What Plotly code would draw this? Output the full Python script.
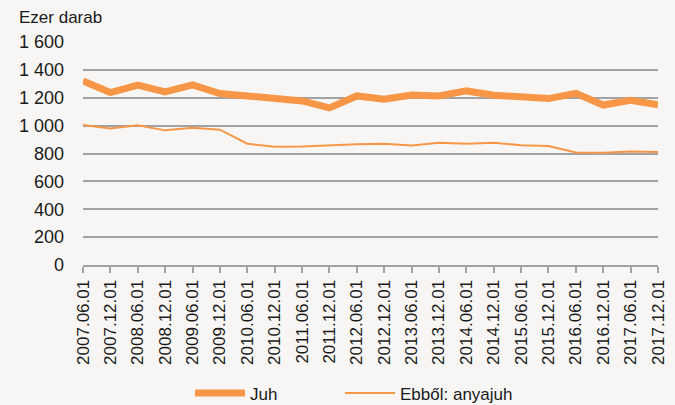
import plotly.graph_objects as go

categories = ["2007.06.01", "2007.12.01", "2008.06.01", "2008.12.01", "2009.06.01", "2009.12.01",
              "2010.06.01", "2010.12.01", "2011.06.01", "2011.12.01", "2012.06.01", "2012.12.01",
              "2013.06.01", "2013.12.01", "2014.06.01", "2014.12.01", "2015.06.01", "2015.12.01",
              "2016.06.01", "2016.12.01", "2017.06.01", "2017.12.01"]
juh = [1321, 1237, 1290, 1242, 1292, 1230, 1213, 1194, 1177, 1127, 1213, 1189,
       1220, 1213, 1249, 1218, 1206, 1194, 1232, 1148, 1182, 1150]
anyajuh = [1004, 980, 1002, 966, 985, 971, 870, 848, 850, 860, 867, 870,
           858, 877, 870, 877, 860, 853, 807, 805, 815, 810]
ytick_vals = [0, 200, 400, 600, 800, 1000, 1200, 1400, 1600]
ytick_text = ["0", "200", "400", "600", "800", "1 000", "1 200", "1 400", "1 600"]

orange = "#F79646"
grid = "#A0A2A6"
bg = "#F7F6F4"
font = "Liberation Sans, Arial, sans-serif"
txt = "#1a1a1a"

idx = list(range(len(categories)))

fig = go.Figure()
fig.add_trace(go.Scatter(x=idx, y=juh, mode="lines", name="Juh", legend="legend",
                         line=dict(color=orange, width=7), cliponaxis=False))
fig.add_trace(go.Scatter(x=idx, y=anyajuh, mode="lines", name="Ebből: anyajuh", legend="legend2",
                         line=dict(color=orange, width=2), cliponaxis=False))

leg_common = dict(orientation="h", xanchor="left", y=-0.495, yanchor="top",
                  font=dict(size=17, family=font, color=txt), itemwidth=50,
                  bgcolor="rgba(0,0,0,0)")

fig.update_layout(
    width=675, height=405,
    margin=dict(l=83, r=17, t=42, b=140, autoexpand=False),
    paper_bgcolor=bg, plot_bgcolor=bg,
    font=dict(family=font, size=17, color=txt),
    showlegend=True,
    legend=dict(x=(190 - 83) / 575, **leg_common),
    legend2=dict(x=(340 - 83) / 575, **leg_common),
    annotations=[dict(text="Ezer darab", xref="paper", yref="paper",
                      x=(17 - 83) / 575, y=(405 - 140 - 18) / 223, xanchor="left", yanchor="middle",
                      showarrow=False, font=dict(size=17, family=font, color=txt))],
)
fig.update_xaxes(
    range=[0, len(categories) - 1], automargin=False,
    tickmode="array", tickvals=idx, ticktext=categories, tickangle=-90,
    showgrid=False, zeroline=False,
    showline=True, linecolor=grid, linewidth=2,
    ticks="outside", ticklen=6, tickwidth=2, tickcolor=grid,
    tickfont=dict(size=17),
)
fig.update_yaxes(
    range=[0, 1600], automargin=False,
    tickmode="array", tickvals=ytick_vals, ticktext=ytick_text,
    showgrid=True, gridcolor=grid, gridwidth=2,
    zeroline=False, showline=False, ticks="",
    ticklabelstandoff=18,
    tickfont=dict(size=18),
)

fig.write_html("out.html", config={"displayModeBar": False},
               post_script="document.body.style.margin='0px';document.body.style.overflow='hidden';")
